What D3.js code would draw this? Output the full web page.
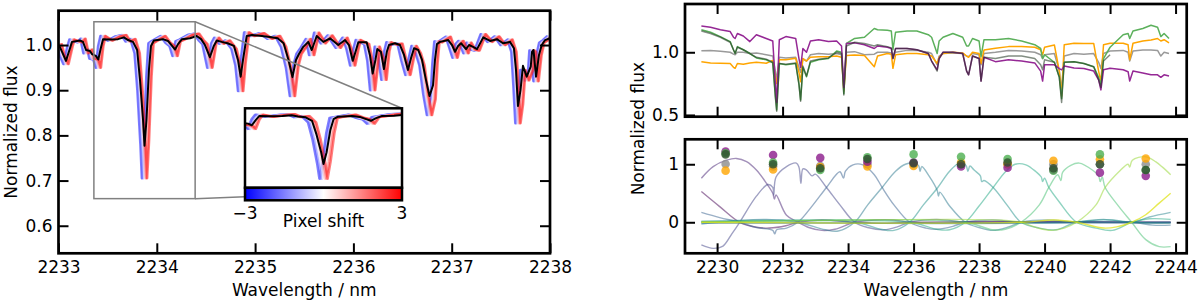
<!DOCTYPE html>
<html>
<head>
<meta charset="utf-8">
<script src="https://cdn.jsdelivr.net/npm/d3@7"></script>
<style>
  body { margin: 0; background: #fff; }
  svg { display: block; }
  text { font-family: "DejaVu Sans", sans-serif; }
</style>
</head>
<body>
<svg id="fig" width="1200" height="302"></svg>
<script>
// ---------- left panel: shifted spectra around 2233-2238 nm ----------
const leftWl = [2233.005,2233.036,2233.076,2233.117,2233.137,2233.219,2233.249,2233.28,2233.32,2233.34,2233.38,2233.405,2233.43,2233.453,2233.524,2233.605,2233.666,2233.707,2233.758,2233.80,2233.829,2233.86,2233.875,2233.895,2233.92,2233.941,2233.97,2234.063,2234.114,2234.155,2234.186,2234.216,2234.256,2234.338,2234.406,2234.45,2234.49,2234.54,2234.58,2234.61,2234.66,2234.72,2234.785,2234.826,2234.853,2234.877,2234.915,2234.97,2235.07,2235.15,2235.23,2235.29,2235.34,2235.38,2235.416,2235.446,2235.49,2235.541,2235.576,2235.627,2235.694,2235.762,2235.846,2235.915,2235.955,2235.993,2236.027,2236.05,2236.135,2236.168,2236.196,2236.224,2236.243,2236.28,2236.311,2236.34,2236.362,2236.423,2236.474,2236.515,2236.555,2236.586,2236.617,2236.66,2236.698,2236.738,2236.774,2236.81,2236.83,2236.85,2236.881,2236.965,2237.003,2237.034,2237.065,2237.095,2237.146,2237.176,2237.217,2237.258,2237.321,2237.39,2237.46,2237.522,2237.593,2237.633,2237.654,2237.674,2237.70,2237.725,2237.763,2237.804,2237.817,2237.832,2237.858,2237.888,2237.916,2237.95,2238.0];
const meanFlux = [1.000,0.985,0.965,0.993,1.007,1.010,1.007,0.989,0.987,0.980,0.976,0.968,0.993,1.013,1.012,1.013,1.017,1.011,1.007,0.989,0.923,0.834,0.777,0.834,0.945,0.998,1.010,1.013,1.009,0.998,0.990,1.002,1.013,1.015,1.020,1.013,1.000,0.973,0.998,1.010,1.007,1.004,0.998,0.967,0.930,0.967,1.020,1.022,1.020,1.018,1.015,1.004,0.967,0.929,0.967,0.980,0.996,1.007,0.989,1.020,1.007,1.015,1.000,1.011,1.000,0.965,0.989,1.006,1.006,0.978,0.937,0.967,0.991,0.985,0.947,0.985,1.000,1.004,1.000,0.978,0.945,0.971,0.993,0.989,0.967,0.923,0.887,0.911,0.967,1.002,1.007,1.011,1.000,0.985,0.998,1.004,0.991,1.000,0.996,0.991,1.017,1.009,1.013,1.004,1.007,0.993,0.945,0.865,0.900,0.954,0.930,0.952,0.985,0.989,0.930,0.978,1.000,1.011,1.015];
const rawFlux = [1.004,0.978,0.958,0.997,1.012,1.006,1.014,0.982,0.990,0.970,0.968,0.950,0.998,1.020,1.010,1.019,1.022,1.008,1.013,0.982,0.900,0.780,0.705,0.790,0.930,1.004,1.008,1.020,1.005,0.998,0.976,1.008,1.012,1.022,1.025,1.011,1.002,0.950,1.004,1.016,1.003,1.010,0.992,0.955,0.898,0.960,1.028,1.020,1.026,1.014,1.020,0.996,0.950,0.887,0.955,0.980,0.994,1.013,0.978,1.027,1.004,1.021,0.994,1.016,0.992,0.955,0.992,1.011,1.002,0.965,0.900,0.955,0.996,0.972,0.923,0.986,1.006,1.001,1.003,0.965,0.934,0.968,0.998,0.982,0.955,0.890,0.845,0.880,0.960,1.008,1.006,1.018,0.993,0.972,1.002,1.009,0.982,1.005,0.990,0.988,1.024,1.007,1.019,1.000,1.012,0.985,0.910,0.827,0.870,0.945,0.922,0.945,0.988,0.985,0.920,0.978,1.005,1.010,1.020];
const pixelShifts = [-3, -2, -1, 0, 1, 2, 3];
const pixelSize = 0.009;              // nm per pixel
const insetWlRange = [2233.36, 2234.39];
const insetFluxRange = [0.66, 1.0515];
const leftXTicks = [2233, 2234, 2235, 2236, 2237, 2238];
const leftYTicks = [0.6, 0.7, 0.8, 0.9, 1.0];

// ---------- right top: stellar spectra ----------
const topWl = [2229.52,2229.8,2230.1,2230.4,2230.5,2230.55,2230.62,2230.8,2231.0,2231.2,2231.5,2231.7,2231.78,2231.82,2231.9,2232.1,2232.4,2232.5,2232.55,2232.62,2232.73,2232.85,2233.1,2233.4,2233.65,2233.8,2233.87,2233.95,2234.2,2234.5,2234.8,2234.9,2235.2,2235.32,2235.37,2235.45,2235.8,2236.1,2236.45,2236.55,2236.72,2236.78,2236.9,2237.2,2237.5,2237.62,2237.68,2237.8,2238.0,2238.06,2238.15,2238.5,2238.9,2239.3,2239.7,2239.88,2239.94,2240.0,2240.3,2240.45,2240.52,2240.6,2240.9,2241.2,2241.5,2241.65,2241.72,2241.8,2242.0,2242.4,2242.55,2242.6,2242.7,2243.0,2243.25,2243.45,2243.55,2243.65,2243.8];
const purpleFlux = [1.21,1.20,1.18,1.165,1.12,1.11,1.15,1.13,1.085,1.14,1.11,1.09,0.75,0.60,1.10,1.125,1.11,0.95,0.88,1.03,1.00,1.09,1.10,1.085,1.09,1.05,0.72,1.07,1.075,1.06,1.03,1.05,1.04,1.03,0.95,1.03,1.03,1.02,0.99,0.93,0.86,0.95,1.0,1.0,0.99,0.85,0.82,0.97,0.95,0.77,0.96,0.925,0.94,0.93,0.915,0.85,0.77,0.90,0.90,0.87,0.86,0.89,0.875,0.87,0.85,0.78,0.70,0.86,0.872,0.86,0.845,0.77,0.85,0.835,0.82,0.82,0.80,0.82,0.81];
const greenFlux = [1.18,1.16,1.125,1.085,1.02,0.99,1.045,1.02,0.99,0.955,0.94,0.915,0.65,0.54,0.91,0.90,0.91,0.75,0.62,0.88,0.805,0.92,0.94,0.95,1.01,1.0,0.67,1.07,1.11,1.12,1.19,1.18,1.175,1.17,1.02,1.16,1.17,1.17,1.14,1.12,0.99,1.09,1.12,1.15,1.12,1.05,1.05,1.11,1.09,0.965,1.10,1.10,1.11,1.09,1.06,1.03,0.95,0.98,0.92,0.80,0.63,0.92,0.925,0.91,0.885,0.80,0.74,0.95,1.04,1.14,1.15,1.11,1.17,1.19,1.215,1.20,1.125,1.15,1.11];
const grayFlux = [1.013,1.015,1.008,1.0,0.985,0.98,1.0,1.0,0.99,0.995,0.98,0.97,0.85,0.78,0.96,0.955,0.96,0.88,0.84,0.95,0.93,0.98,0.99,0.985,0.99,0.98,0.72,1.0,1.005,0.98,0.985,1.0,1.0,0.995,0.97,1.0,1.015,1.015,1.0,0.99,0.90,0.97,0.99,0.995,0.99,0.97,0.965,0.99,0.98,0.90,0.99,1.0,1.015,1.01,1.0,0.98,0.95,0.98,0.99,0.85,0.70,0.97,0.99,0.985,0.99,0.92,0.87,0.99,1.01,1.015,1.0,0.93,1.01,1.018,1.018,1.015,0.97,1.0,0.99];
const orangeFlux = [0.925,0.915,0.912,0.91,0.88,0.872,0.91,0.905,0.915,0.92,0.912,0.935,0.80,0.75,0.94,0.94,0.952,0.84,0.765,0.95,0.93,0.96,0.965,0.965,0.97,0.96,0.69,0.975,0.978,0.975,0.885,0.97,0.99,0.985,0.872,0.98,0.99,0.99,0.98,0.97,0.91,0.96,0.99,1.0,0.995,0.97,0.96,1.0,0.99,0.91,1.018,1.032,1.045,1.045,1.04,1.02,0.98,1.04,1.058,0.85,0.65,1.06,1.072,1.07,1.07,0.85,0.766,1.06,1.072,1.072,1.06,0.94,1.072,1.09,1.098,1.11,1.09,1.10,1.075];
// dark spectrum, traced only where it shows (null = hidden)
const darkFlux = [1.17,1.15,1.12,1.08,1.02,0.99,1.04,1.02,0.99,0.96,0.945,0.92,0.64,0.53,0.91,0.905,0.915,0.74,0.61,0.89,0.81,0.93,0.945,0.955,1.0,0.99,0.66,1.05,1.08,1.07,1.05,1.06,1.045,1.035,0.95,1.03,1.03,1.02,0.99,0.93,0.85,0.95,1.0,1.0,0.99,0.85,0.82,0.97,0.95,0.77,0.96,0.95,0.97,0.97,0.95,0.90,0.86,0.94,0.92,0.80,0.60,0.92,0.925,0.91,0.885,0.78,0.72,0.93,0.98,null,null,null,null,null,null,null,null,null,null];
const rightXTicks = [2230, 2232, 2234, 2236, 2238, 2240, 2242, 2244];
const topYTicks = [0.5, 1.0];

// ---------- right bottom: interpolation basis and node coefficients ----------
const basisA = [[2229.52,0.76],[2229.88,0.96],[2230.29,1.07],[2230.59,1.1],[2230.9,1.045],[2231.2,0.9],[2231.51,0.67],[2231.7,0.5],[2231.75,0.4],[2231.8,0.47],[2232.12,0.12],[2232.47,0],[2232.8,-0.09],[2233.2,-0.14],[2233.6,-0.12],[2234.2,0],[2234.8,0.04],[2235.4,0.04],[2235.88,0],[2236.7,-0.02],[2237.58,0],[2239,0.01],[2240.98,0],[2243.85,-0.01]];
const basisB = [[2229.52,0.53],[2230.08,0.27],[2230.69,0],[2231.2,-0.085],[2231.6,-0.1],[2232.1,-0.06],[2232.47,0],[2233.2,0.04],[2234.2,0],[2235,-0.02],[2235.88,0],[2237.58,0.01],[2243.85,0]];
const basisC = [[2229.52,-0.39],[2229.88,-0.45],[2230.18,-0.41],[2230.45,-0.2],[2230.69,0],[2231.2,0.45],[2231.55,0.65],[2231.7,0.6],[2231.73,0.47],[2231.8,0.78],[2232.12,0.96],[2232.42,1.02],[2232.5,0.95],[2232.56,0.67],[2232.62,0.92],[2232.73,0.9],[2232.9,0.8],[2233.0,0.83],[2233.34,0.6],[2233.75,0.3],[2234.2,0],[2234.6,-0.09],[2235.1,-0.13],[2235.5,-0.08],[2235.88,0],[2236.7,0.05],[2237.58,0],[2238.5,-0.02],[2239.28,0],[2243.85,0]];
const basisD = [[2229.52,0.17],[2230.08,0.08],[2230.69,0],[2231.2,-0.09],[2231.7,-0.14],[2231.76,-0.2],[2231.82,-0.13],[2232.12,-0.1],[2232.47,0],[2232.93,0.3],[2233.34,0.6],[2233.75,0.87],[2233.86,0.76],[2233.92,0.88],[2234.15,0.99],[2234.45,0.99],[2234.8,0.82],[2235.04,0.6],[2235.4,0.3],[2235.88,0],[2236.38,-0.1],[2236.74,-0.12],[2237.2,-0.07],[2237.58,0],[2238.4,0.04],[2239.28,0],[2243.85,0]];
const basisE = [[2229.52,-0.03],[2231.5,0.05],[2232.47,0],[2233.3,-0.13],[2233.7,-0.15],[2234.2,0],[2234.6,0.3],[2235.04,0.6],[2235.45,0.88],[2235.75,1.0],[2236.0,1.02],[2236.15,0.98],[2236.2,0.88],[2236.25,0.96],[2236.48,0.79],[2236.72,0.55],[2236.76,0.45],[2236.8,0.52],[2237.1,0.28],[2237.58,0],[2238.0,-0.09],[2238.42,-0.14],[2238.9,-0.08],[2239.28,0],[2240.1,0.04],[2240.98,0],[2243.85,0]];
const basisF = [[2229.52,0.02],[2234.2,0],[2235.0,-0.12],[2235.4,-0.14],[2235.88,0],[2236.3,0.3],[2236.74,0.6],[2237.1,0.88],[2237.4,1.02],[2237.6,0.98],[2237.66,0.88],[2237.72,0.97],[2237.85,0.9],[2238.04,0.8],[2238.08,0.7],[2238.15,0.72],[2238.43,0.6],[2238.85,0.3],[2239.28,0],[2239.84,-0.1],[2240.35,-0.13],[2240.98,0],[2242,0.04],[2242.66,0],[2243.85,-0.02]];
const basisG = [[2229.52,0],[2235.88,0],[2236.7,-0.12],[2237.1,-0.13],[2237.58,0],[2238.0,0.28],[2238.43,0.6],[2238.82,0.88],[2239.1,1.0],[2239.43,0.99],[2239.74,0.87],[2239.9,0.78],[2239.94,0.7],[2240.0,0.76],[2240.13,0.6],[2240.45,0.35],[2240.98,0],[2241.57,-0.1],[2242.07,-0.14],[2242.66,0],[2243.2,0.06],[2243.85,0.05]];
const basisH = [[2229.52,0],[2237.58,0],[2238.4,-0.13],[2238.8,-0.12],[2239.28,0],[2239.84,0.3],[2240.13,0.6],[2240.4,0.82],[2240.5,0.72],[2240.55,0.86],[2240.8,0.98],[2241.06,1.02],[2241.46,0.9],[2241.65,0.8],[2241.7,0.7],[2241.76,0.78],[2241.85,0.6],[2242.27,0.27],[2242.66,0],[2243.09,-0.3],[2243.5,-0.42],[2243.85,-0.42]];
const basisI = [[2229.52,0],[2238.43,0.04],[2239.28,0],[2239.8,-0.1],[2240.2,-0.14],[2240.6,-0.1],[2240.98,0],[2241.57,0.3],[2241.85,0.6],[2242.27,0.87],[2242.55,1.0],[2242.6,0.95],[2242.68,1.07],[2243.09,1.13],[2243.4,1.04],[2243.6,0.95],[2243.85,0.82]];
const basisJ = [[2229.52,0],[2239.28,0],[2240.3,0.04],[2240.98,0],[2241.8,-0.1],[2242.2,-0.08],[2242.66,0],[2243.09,0.13],[2243.5,0.33],[2243.85,0.5]];
const basisK = [[2229.52,0.01],[2240.98,0],[2241.8,0.05],[2242.66,0],[2243.2,0.09],[2243.85,0.17]];
const basisL = [[2229.52,-0.02],[2238,-0.01],[2242.66,0],[2243.3,-0.05],[2243.85,-0.05]];
const basisSet = [basisB, basisA, basisC, basisD, basisK, basisL, basisE, basisF, basisG, basisH, basisI, basisJ];
const basisTone = [0.0, 0.1, 0.2, 0.3, 0.45, 0.35, 0.4, 0.5, 0.6, 0.7, 0.85, 0.95];
const basisAlpha = [0.5, 0.5, 0.5, 0.5, 0.5, 0.5, 0.5, 0.5, 0.5, 0.5, 0.55, 0.75];

const nodeWl = [2230.26, 2231.71, 2233.15, 2234.59, 2236.0, 2237.45, 2238.87, 2240.27, 2241.69, 2243.09];
const purpleDots = [1.217, 1.16, 1.11, 1.045, 1.03, 0.96, 0.94, 0.90, 0.855, 0.80];
const greenDots  = [1.19, 1.03, 0.90, 1.12, 1.17, 1.13, 1.09, 0.89, 1.17, 0.90];
const grayDots   = [1.005, 0.96, 0.97, 1.0, 1.005, 1.0, 1.0, 1.0, 1.0, 1.0];
const orangeDots = [0.89, 0.91, 0.95, 0.96, 0.97, 1.03, 1.0, 1.06, 1.085, 1.10];
const darkDots   = [1.17, 1.0, 0.93, 1.09, 1.02, 1.0, 1.03, 0.93, 1.0, 0.90];
const botYTicks = [0, 1];

// ---------------------------------------------------------------------
const svg = d3.select("#fig");
const FS = 17;

function styleAxis(g) {
  g.attr("font-family", "DejaVu Sans").attr("font-size", FS);
  g.select(".domain").remove();
  g.selectAll(".tick line").attr("stroke", "#000").attr("stroke-width", 2);
  g.selectAll(".tick text").attr("fill", "#000");
}

// boxed axes with inward ticks on all four sides
function drawFrame(g, x, y, w, h, xTicks, yTicks, xFmt, yFmt) {
  g.append("g").attr("transform", `translate(0,${h})`)
    .call(d3.axisBottom(x).tickValues(xTicks).tickSize(-10).tickPadding(8).tickFormat(xFmt)).call(styleAxis);
  g.append("g")
    .call(d3.axisTop(x).tickValues(xTicks).tickSize(-10).tickFormat("")).call(styleAxis);
  g.append("g")
    .call(d3.axisLeft(y).tickValues(yTicks).tickSize(-10).tickPadding(6).tickFormat(yFmt)).call(styleAxis);
  g.append("g").attr("transform", `translate(${w},0)`)
    .call(d3.axisRight(y).tickValues(yTicks).tickSize(-10).tickFormat("")).call(styleAxis);
}

function clipRect(id, w, h) {
  svg.append("clipPath").attr("id", id).append("rect").attr("width", w).attr("height", h);
  return `url(#${id})`;
}

const bwr = d3.scaleLinear().domain([-3, 0, 3]).range(["#0000ff", "#ffffff", "#ff0000"]);

// ===================== left panel =====================
const L = {x: 58.5, y: 10.7, w: 491.5, h: 242.6};
const xL = d3.scaleLinear().domain([2233, 2238]).range([0, L.w]);
const yL = d3.scaleLinear().domain([0.539, 1.076]).range([L.h, 0]);
const gL = svg.append("g").attr("transform", `translate(${L.x},${L.y})`);

function drawShifted(g, x, y, clip, bw) {
  const d = g.append("g").attr("clip-path", clip);
  pixelShifts.forEach(s => {
    d.append("path")
      .attr("d", d3.line().x((v, i) => x(leftWl[i] + s * pixelSize)).y(v => y(v))(rawFlux))
      .attr("fill", "none").attr("stroke", bwr(s)).attr("stroke-width", 2.5)
      .attr("stroke-opacity", 0.5).attr("stroke-linejoin", "round");
  });
  d.append("path")
    .attr("d", d3.line().x((v, i) => x(leftWl[i])).y(v => y(v))(meanFlux))
    .attr("fill", "none").attr("stroke", "#000").attr("stroke-width", bw).attr("stroke-linejoin", "round");
}

drawShifted(gL, xL, yL, clipRect("clipL", L.w, L.h), 2);
drawFrame(gL, xL, yL, L.w, L.h, leftXTicks, leftYTicks, d3.format("d"), d3.format(".1f"));

// zoom box and connectors
const zx0 = xL(insetWlRange[0]), zx1 = xL(insetWlRange[1]);
const zy0 = yL(insetFluxRange[1]), zy1 = yL(insetFluxRange[0]);
gL.append("rect").attr("x", zx0).attr("y", zy0).attr("width", zx1 - zx0).attr("height", zy1 - zy0)
  .attr("fill", "none").attr("stroke", "#808080").attr("stroke-width", 1.5);

const I = {x: 245 - L.x, y: 108.3 - L.y, w: 157, h: 79.5};
const CB = {h: 12.5};
gL.append("line").attr("x1", zx1).attr("y1", zy0).attr("x2", I.x + I.w).attr("y2", I.y)
  .attr("stroke", "#808080").attr("stroke-width", 1.5);
gL.append("line").attr("x1", zx1).attr("y1", zy1).attr("x2", I.x).attr("y2", I.y + I.h + 9)
  .attr("stroke", "#808080").attr("stroke-width", 1.5);

// inset
const xI = d3.scaleLinear().domain(insetWlRange).range([0, I.w]);
const yI = d3.scaleLinear().domain(insetFluxRange).range([I.h, 0]);
const gI = gL.append("g").attr("transform", `translate(${I.x},${I.y})`);
gI.append("rect").attr("width", I.w).attr("height", I.h).attr("fill", "#fff");
drawShifted(gI, xI, yI, clipRect("clipI", I.w, I.h), 2);
gI.append("rect").attr("width", I.w).attr("height", I.h).attr("fill", "none")
  .attr("stroke", "#000").attr("stroke-width", 2.5);

// colour bar
const defs = svg.append("defs");
const grad = defs.append("linearGradient").attr("id", "bwr");
pixelShifts.forEach(s => grad.append("stop").attr("offset", (s + 3) / 6).attr("stop-color", bwr(s)));
const gC = gL.append("g").attr("transform", `translate(${I.x},${I.y + I.h})`);
const xC = d3.scaleLinear().domain([-3, 3]).range([0, I.w]);
gC.append("rect").attr("width", I.w).attr("height", CB.h).attr("fill", "url(#bwr)")
  .attr("stroke", "#000").attr("stroke-width", 2.5);
[-3, 3].forEach(t => gC.append("text").attr("x", xC(t)).attr("y", CB.h + 19)
  .attr("text-anchor", "middle").attr("font-size", FS).text(t < 0 ? "\u2212" + Math.abs(t) : t));
gC.append("text").attr("x", xC(0)).attr("y", CB.h + 27).attr("text-anchor", "middle")
  .attr("font-size", FS).text("Pixel shift");

// axis labels
svg.append("text").attr("x", L.x + L.w / 2).attr("y", 295.5).attr("text-anchor", "middle")
  .attr("font-size", FS).text("Wavelength / nm");
svg.append("text").attr("transform", `translate(16.7,${L.y + L.h / 2}) rotate(-90)`)
  .attr("text-anchor", "middle").attr("font-size", FS).text("Normalized flux");

// ===================== right top =====================
const RT = {x: 685, y: 4, w: 501.7, h: 112.7};
const xR = d3.scaleLinear().domain([2229.02, 2244.34]).range([0, RT.w]);
const yRT = d3.scaleLinear().domain([0.486, 1.385]).range([RT.h, 0]);
const gRT = svg.append("g").attr("transform", `translate(${RT.x},${RT.y})`);
const specLines = [
  {f: grayFlux, c: "#9a9a9a", o: 1},
  {f: orangeFlux, c: "#ffa500", o: 1},
  {f: greenFlux, c: "#5cb05c", o: 1},
  {f: purpleFlux, c: "#952895", o: 1},
  {f: darkFlux, c: "#1c301c", o: 0.55}
];
const gRTd = gRT.append("g").attr("clip-path", clipRect("clipRT", RT.w, RT.h));
specLines.forEach(s => {
  gRTd.append("path")
    .attr("d", d3.line().defined(v => v !== null).x((v, i) => xR(topWl[i])).y(v => yRT(v))(s.f))
    .attr("fill", "none").attr("stroke", s.c).attr("stroke-opacity", s.o)
    .attr("stroke-width", 1.5).attr("stroke-linejoin", "round");
});
drawFrame(gRT, xR, yRT, RT.w, RT.h, rightXTicks, topYTicks, "", d3.format(".1f"));

// ===================== right bottom =====================
const RB = {x: 685, y: 139.3, w: 501.7, h: 114};
const yRB = d3.scaleLinear().domain([-0.535, 1.43]).range([RB.h, 0]);
const gRB = svg.append("g").attr("transform", `translate(${RB.x},${RB.y})`);
const gRBd = gRB.append("g").attr("clip-path", clipRect("clipRB", RB.w, RB.h));
const basisLine = d3.line().x(d => xR(d[0])).y(d => yRB(d[1])).curve(d3.curveCatmullRom.alpha(0.5));
basisSet.forEach((b, i) => {
  gRBd.append("path").attr("d", basisLine(b)).attr("fill", "none")
    .attr("stroke", d3.interpolateViridis(basisTone[i])).attr("stroke-opacity", basisAlpha[i])
    .attr("stroke-width", 1.4);
});
const dotSets = [
  {v: grayDots, c: "#8c8c8c"},
  {v: orangeDots, c: "#ffa500"},
  {v: purpleDots, c: "#8b1a8b"},
  {v: greenDots, c: "#4caf50"},
  {v: darkDots, c: "#2f4f2f"}
];
dotSets.forEach(s => {
  gRBd.selectAll(null).data(s.v).enter().append("circle")
    .attr("cx", (v, i) => xR(nodeWl[i])).attr("cy", v => yRB(v)).attr("r", 4.3)
    .attr("fill", s.c).attr("fill-opacity", 0.8);
});
drawFrame(gRB, xR, yRB, RB.w, RB.h, rightXTicks, botYTicks, d3.format("d"), d3.format("d"));

svg.append("text").attr("x", RT.x + RT.w / 2).attr("y", 295.5).attr("text-anchor", "middle")
  .attr("font-size", FS).text("Wavelength / nm");
svg.append("text").attr("transform", `translate(644,128.7) rotate(-90)`)
  .attr("text-anchor", "middle").attr("font-size", FS).text("Normalized flux");

// spines drawn last so they sit on top
[L, RT, RB].forEach(p => {
  svg.append("rect").attr("x", p.x).attr("y", p.y).attr("width", p.w).attr("height", p.h)
    .attr("fill", "none").attr("stroke", "#000").attr("stroke-width", 2.7);
});
</script>
</body>
</html>
